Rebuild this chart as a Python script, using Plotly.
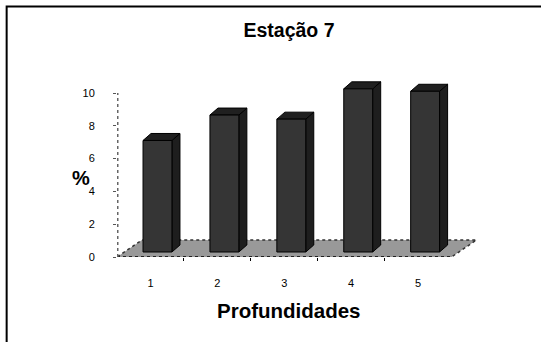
import plotly.graph_objects as go

# ---- data ----
categories = ["1", "2", "3", "4", "5"]
values = [6.8, 8.35, 8.1, 9.95, 9.8]
y_ticks = [0, 2, 4, 6, 8, 10]
title_text = "Estação 7"
x_title = "Profundidades"
y_title = "%"

# ---- geometry (pseudo-3D) in axis units ----
W, H = 541, 342
ml, mr, mt, mb = 117, 55.5, 77, 85
px_x = 67.0      # pixels per category unit
px_y = 16.4      # pixels per value unit
xr = [0.5, 0.5 + (W - ml - mr) / px_x]
yr = [0, (H - mt - mb) / px_y]

bar_shift_x = 0.105
bar_shift_y = 0.305
half_w = 0.216
dep_x = 0.12
dep_y = 0.427
floor_dx = 25 / px_x
floor_dy = 17 / px_y

fig = go.Figure()

n = len(categories)
pos = list(range(1, n + 1))

# floor
fx = [0.5, n + 0.5, n + 0.5 + floor_dx, 0.5 + floor_dx, 0.5]
fy = [0, 0, floor_dy, floor_dy, 0]
fig.add_trace(go.Scatter(x=fx, y=fy, mode="lines", fill="toself",
                         fillcolor="#999999",
                         line=dict(color="#333333", width=1.5, dash="dot"),
                         hoverinfo="skip", showlegend=False))
fig.add_trace(go.Scatter(x=[0.5, n + 0.5], y=[0, 0], mode="lines",
                         line=dict(color="#222222", width=2, dash="dot"),
                         hoverinfo="skip", showlegend=False))

for p, v in zip(pos, values):
    x0 = p + bar_shift_x - half_w
    x1 = p + bar_shift_x + half_w
    y0 = bar_shift_y
    y1 = bar_shift_y + v
    # side face
    fig.add_trace(go.Scatter(
        x=[x1, x1 + dep_x, x1 + dep_x, x1, x1],
        y=[y0, y0 + dep_y, y1 + dep_y, y1, y0],
        mode="lines", fill="toself", fillcolor="#1e1e1e",
        line=dict(color="#000000", width=1), hoverinfo="skip", showlegend=False))
    # top face
    fig.add_trace(go.Scatter(
        x=[x0, x1, x1 + dep_x, x0 + dep_x, x0],
        y=[y1, y1, y1 + dep_y, y1 + dep_y, y1],
        mode="lines", fill="toself", fillcolor="#202020",
        line=dict(color="#000000", width=1), hoverinfo="skip", showlegend=False))
    # front face
    fig.add_trace(go.Scatter(
        x=[x0, x1, x1, x0, x0],
        y=[y0, y0, y1, y1, y0],
        mode="lines", fill="toself", fillcolor="#353535",
        line=dict(color="#000000", width=1), hoverinfo="skip", showlegend=False))

# dotted value-axis line
fig.add_shape(type="line", xref="x", yref="y", x0=0.5, x1=0.5, y0=0, y1=10,
              line=dict(color="#666666", width=3, dash="dot"))

# outer border (paper coordinates computed from pixels)
pw = W - ml - mr
ph = H - mt - mb
def px2paper_x(px):
    return (px - ml) / pw
def px2paper_y(py):
    return (H - mb - py) / ph
fig.add_shape(type="rect", xref="paper", yref="paper",
              x0=px2paper_x(6.5), x1=px2paper_x(560),
              y0=px2paper_y(360), y1=px2paper_y(6.5),
              line=dict(color="#000000", width=2), layer="below")

font_family = "Arial, 'Liberation Sans', sans-serif"

fig.update_layout(
    width=W, height=H,
    margin=dict(l=ml, r=mr, t=mt, b=mb, autoexpand=False),
    paper_bgcolor="white", plot_bgcolor="white",
    showlegend=False,
    font=dict(family=font_family, color="#000000", size=11),
    title=dict(text="<b>" + title_text + "</b>", x=289 / W, xanchor="center",
               y=1 - 30 / H, yanchor="middle",
               font=dict(size=19.5, family=font_family, color="#000000")),
    xaxis=dict(range=xr, tickvals=pos, ticktext=categories,
               showgrid=False, zeroline=False, showline=False,
               ticks="", ticklabelstandoff=18,
               minor=dict(ticks="outside", tickvals=[1.5, 2.5, 3.5, 4.5],
                          ticklen=3, tickcolor="#000000", tickwidth=1),
               tickfont=dict(size=11, color="#000000")),
    yaxis=dict(range=yr, tickvals=y_ticks, showgrid=False, zeroline=False,
               showline=False, ticks="outside", ticklen=3,
               tickcolor="#555555", ticklabelstandoff=16,
               tickfont=dict(size=11, color="#000000")),
    annotations=[
        dict(text="<b>" + x_title + "</b>", xref="paper", yref="paper",
             x=px2paper_x(289), y=px2paper_y(310), xanchor="center",
             yanchor="middle", showarrow=False,
             font=dict(size=20.5, family=font_family, color="#000000")),
        dict(text="<b>" + y_title + "</b>", xref="paper", yref="paper",
             x=px2paper_x(80.5), y=px2paper_y(177.5), xanchor="center",
             yanchor="middle", showarrow=False,
             font=dict(size=20, family=font_family, color="#000000")),
    ],
)

fig.write_html("out.html")
